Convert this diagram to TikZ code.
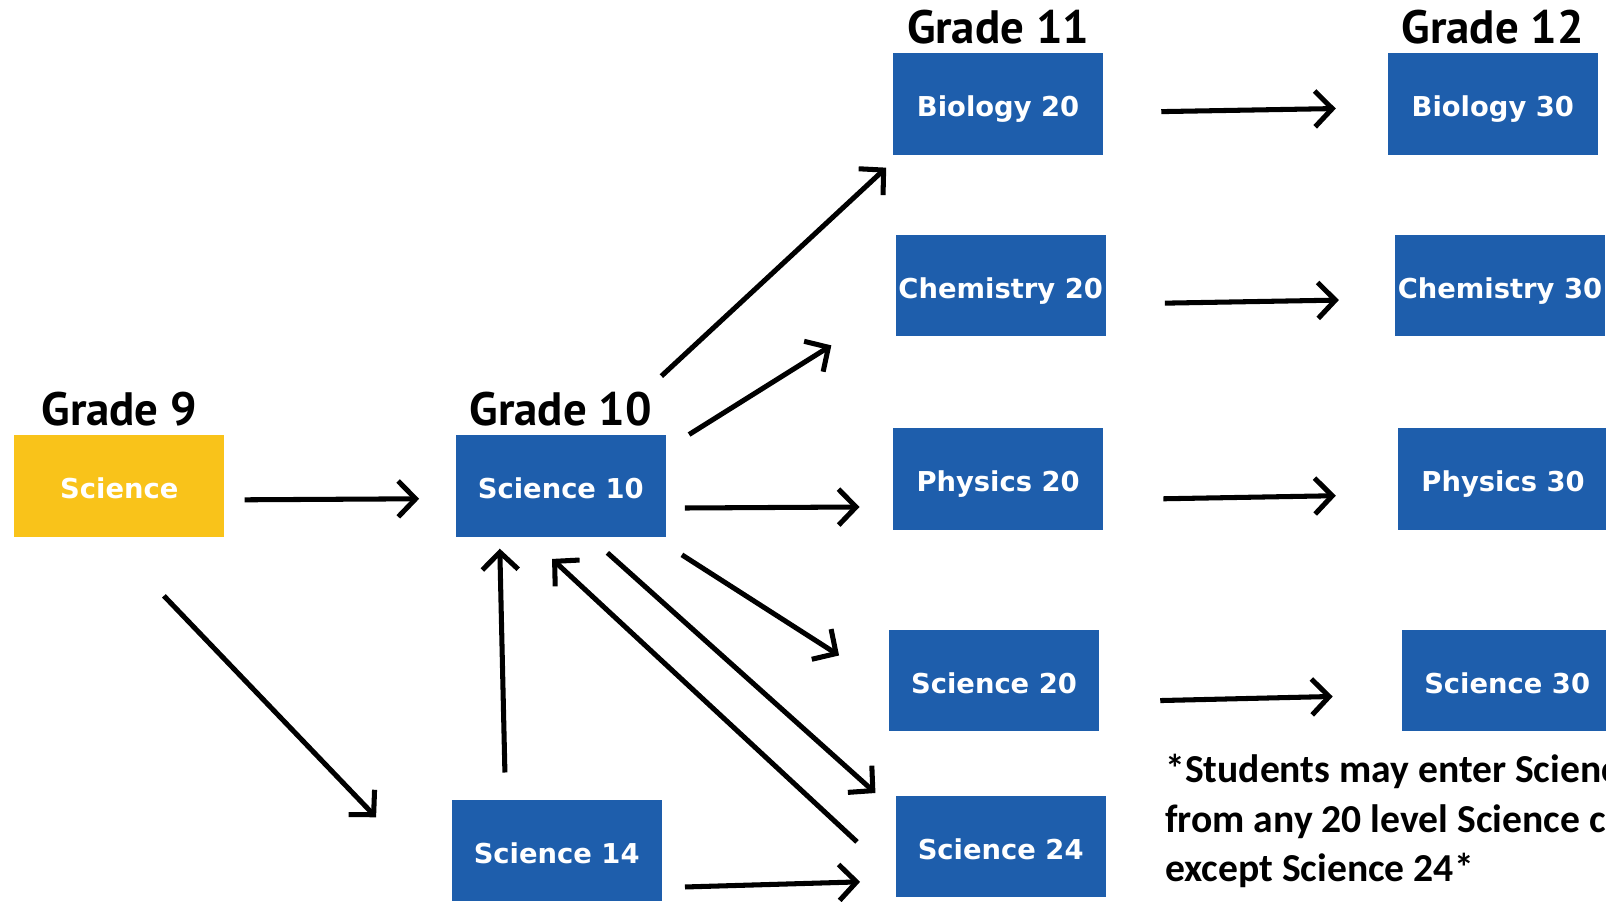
\documentclass[tikz,border=0pt]{standalone}
\usepackage{fontspec}
\setmainfont{DejaVu Sans}
\newfontfamily\gradefont{PT Sans}
\newfontfamily\notefont{Carlito}
\usetikzlibrary{arrows.meta, positioning}
\definecolor{courseblue}{RGB}{30,94,172}
\definecolor{courseyellow}{RGB}{249,195,26}

\begin{document}
\begin{tikzpicture}[x = 0.01cm, y = 0.01cm,
		course/.style = {fill = courseblue, text = white, minimum width = 2.05cm, minimum height = 0.99cm, inner sep = 0, text height = 7.2pt, text depth = 0pt, font = \fontsize{7.6}{9}\selectfont\bfseries},
		grade/.style = {inner sep = 0, font = \gradefont\fontsize{13}{15}\selectfont\bfseries},
		flow/.style = {-{Straight Barb[length = 1.7mm, width = 3.5mm]}, line width = 1.4pt}]
					\clip (0, 0) rectangle (1568, 880);

					\node [course, fill = courseyellow] (sci9) at (116.5, 405.5) {Science};
					\node [course] (sci10) at (547.5, 405.5) {Science 10};
					\node [course] (sci14) at (543.5, 49.5) {Science 14};
					\node [course] (bio20) at (974.5, 778.5) {Biology 20};
					\node [course] (chem20) at (977, 601) {Chemistry 20};
					\node [course] (phys20) at (974.5, 412.5) {Physics 20};
					\node [course] (sci20) at (970.5, 215.5) {Science 20};
					\node [course] (sci24) at (977, 53.5) {Science 24};
					\node [course] (bio30) at (1457.5, 778.5) {Biology 30};
					\node [course] (chem30) at (1464.5, 601) {Chemistry 30};
					\node [course] (phys30) at (1467.5, 412.5) {Physics 30};
					\node [course] (sci30) at (1471.5, 215.5) {Science 30};

					\node [grade, above = 0.07cm of sci9] (g9) {Grade 9};
					\node [grade, above = 0.07cm of sci10] (g10) {Grade 10};
					\node [grade, above = 0.07cm of bio20] (g11) {Grade 11};
					\node [grade, above = 0.07cm of bio30] (g12) {Grade 12};

					\node [anchor = north west, inner sep = 0, align = left, font = \notefont\fontsize{11}{13.7}\selectfont\bfseries] (note) at (1137, 144) {*Students may enter Science 30\\from any 20 level Science course\\except Science 24*};

					\draw [flow] ([xshift = 0.19cm, yshift = -0.135cm]sci9.east) to ([xshift = -0.35cm, yshift = -0.125cm]sci10.west);
					\draw [flow] ([xshift = 0.435cm, yshift = -0.57cm]sci9.south) to ([xshift = -0.73cm, yshift = 0.325cm]sci14.west);
					\draw [flow] ([xshift = -0.05cm, yshift = 0.57cm]sci10.north east) to ([xshift = -0.06cm, yshift = -0.12cm]bio20.south west);
					\draw [flow] ([xshift = 0.22cm]sci10.north east) to ([xshift = -0.62cm, yshift = -0.08cm]chem20.south west);
					\draw [flow] ([xshift = 0.18cm, yshift = -0.215cm]sci10.east) to ([xshift = -0.32cm, yshift = -0.275cm]phys20.west);
					\draw [flow] ([xshift = 0.15cm, yshift = -0.17cm]sci10.south east) to ([xshift = -0.48cm, yshift = 0.245cm]sci20.west);
					\draw [flow] ([xshift = 0.455cm, yshift = -0.15cm]sci10.south) to ([xshift = -0.19cm, yshift = 0.02cm]sci24.north west);
					\draw [flow] ([xshift = -0.37cm, yshift = 0.045cm]sci24.west) to ([xshift = -0.085cm, yshift = -0.21cm]sci10.south);
					\draw [flow] ([xshift = -0.505cm, yshift = 0.26cm]sci14.north) to ([xshift = -0.595cm, yshift = -0.11cm]sci10.south);
					\draw [flow] ([xshift = 0.22cm, yshift = -0.355cm]sci14.east) to ([xshift = -0.34cm, yshift = -0.345cm]sci24.west);

					\draw [flow] ([xshift = 0.56cm, yshift = -0.075cm]bio20.east) to ([xshift = -0.5cm, yshift = -0.045cm]bio30.west);
					\draw [flow] ([xshift = 0.57cm, yshift = -0.17cm]chem20.east) to ([xshift = -0.54cm, yshift = -0.14cm]chem30.west);
					\draw [flow] ([xshift = 0.58cm, yshift = -0.195cm]phys20.east) to ([xshift = -0.6cm, yshift = -0.165cm]phys30.west);
					\draw [flow] ([xshift = 0.59cm, yshift = -0.195cm]sci20.east) to ([xshift = -0.67cm, yshift = -0.155cm]sci30.west);
				\end{tikzpicture}
\end{document}
